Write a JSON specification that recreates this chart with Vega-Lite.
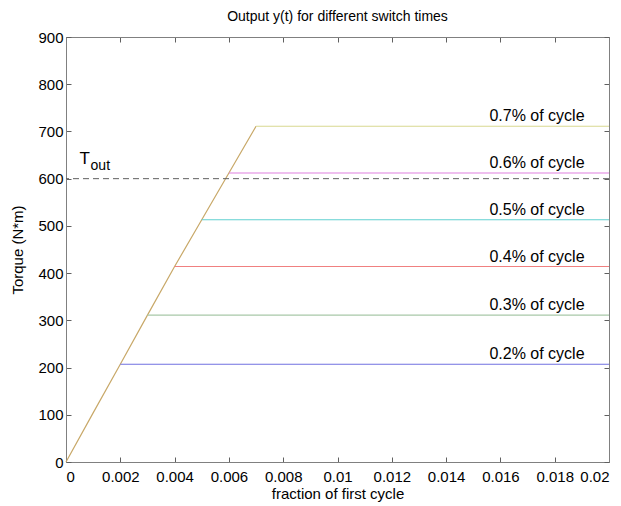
{
  "$schema": "https://vega.github.io/schema/vega-lite/v6.json",
  "width": 543,
  "height": 425,
  "autosize": {"type": "none"},
  "padding": {"left": 66, "top": 37, "right": 12, "bottom": 44},
  "background": "white",
  "title": {"text": "Output y(t) for different switch times", "fontSize": 14, "font": "Liberation Sans", "fontWeight": "normal", "color": "#000", "offset": 6},
  "config": {
    "font": "Liberation Sans",
    "view": {"stroke": "#808080", "strokeWidth": 1},
    "axis": {"domainColor": "#808080", "tickColor": "#606060", "tickSize": -5, "labelFontSize": 15, "labelColor": "#000", "titleFontSize": 15, "titleFontWeight": "normal", "titleColor": "#000", "grid": false, "labelPadding": 9}
  },
  "datasets": {
    "curves": [
      {"series": "ramp", "x": 0, "y": 0},
      {"series": "ramp", "x": 0.001, "y": 104},
      {"series": "ramp", "x": 0.002, "y": 207},
      {"series": "ramp", "x": 0.003, "y": 311},
      {"series": "ramp", "x": 0.004, "y": 414},
      {"series": "ramp", "x": 0.005, "y": 513},
      {"series": "ramp", "x": 0.006, "y": 612},
      {"series": "ramp", "x": 0.007, "y": 711},
      {"series": "0.2%", "x": 0.002, "y": 207},
      {"series": "0.2%", "x": 0.02, "y": 207},
      {"series": "0.3%", "x": 0.003, "y": 311},
      {"series": "0.3%", "x": 0.02, "y": 311},
      {"series": "0.4%", "x": 0.004, "y": 414},
      {"series": "0.4%", "x": 0.02, "y": 414},
      {"series": "0.5%", "x": 0.005, "y": 513},
      {"series": "0.5%", "x": 0.02, "y": 513},
      {"series": "0.6%", "x": 0.006, "y": 612},
      {"series": "0.6%", "x": 0.02, "y": 612},
      {"series": "0.7%", "x": 0.007, "y": 711},
      {"series": "0.7%", "x": 0.02, "y": 711}
    ],
    "labels": [
      {"label": "0.2% of cycle", "y": 207},
      {"label": "0.3% of cycle", "y": 311},
      {"label": "0.4% of cycle", "y": 414},
      {"label": "0.5% of cycle", "y": 513},
      {"label": "0.6% of cycle", "y": 612},
      {"label": "0.7% of cycle", "y": 711}
    ]
  },
  "layer": [
    {
      "data": {"name": "curves"},
      "mark": {"type": "line", "strokeWidth": 1.2},
      "encoding": {
        "x": {"field": "x", "type": "quantitative", "scale": {"domain": [0, 0.02], "nice": false}, "axis": {"title": "fraction of first cycle", "values": [0, 0.002, 0.004, 0.006, 0.008, 0.01, 0.012, 0.014, 0.016, 0.018, 0.02], "format": "~g", "labelPadding": 12, "titlePadding": 2}},
        "y": {"field": "y", "type": "quantitative", "scale": {"domain": [0, 900], "nice": false}, "axis": {"title": "Torque (N*m)", "values": [0, 100, 200, 300, 400, 500, 600, 700, 800, 900], "labelPadding": 8, "titlePadding": 12}},
        "color": {"field": "series", "type": "nominal", "legend": null, "scale": {"domain": ["ramp", "0.2%", "0.3%", "0.4%", "0.5%", "0.6%", "0.7%"], "range": ["#c8a868", "#7070e0", "#a8c8a8", "#f08080", "#60d0d0", "#e080e0", "#d8d890"]}},
        "detail": {"field": "series"}
      }
    },
    {
      "data": {"values": [{}]},
      "mark": {"type": "rule", "strokeDash": [6, 4], "color": "#606060", "strokeWidth": 1},
      "encoding": {"y": {"datum": 600, "axis": null}}
    },
    {
      "data": {"name": "labels"},
      "mark": {"type": "text", "align": "right", "baseline": "bottom", "dy": -2, "fontSize": 16, "color": "#000"},
      "encoding": {
        "x": {"datum": 0.0191, "axis": null},
        "y": {"field": "y", "type": "quantitative", "axis": null},
        "text": {"field": "label"}
      }
    },
    {
      "data": {"values": [{}]},
      "mark": {"type": "text", "align": "left", "baseline": "bottom", "fontSize": 17, "color": "#000"},
      "encoding": {"x": {"datum": 0.0005, "axis": null}, "y": {"datum": 622, "axis": null}, "text": {"value": "T"}}
    },
    {
      "data": {"values": [{}]},
      "mark": {"type": "text", "align": "left", "baseline": "bottom", "fontSize": 14, "color": "#000", "dx": 11, "dy": 5},
      "encoding": {"x": {"datum": 0.0005, "axis": null}, "y": {"datum": 622, "axis": null}, "text": {"value": "out"}}
    },
    {
      "data": {"values": [{}]},
      "mark": {"type": "rule", "opacity": 0},
      "encoding": {
        "x": {"datum": 0, "axis": {"orient": "top", "labels": false, "title": null, "values": [0, 0.002, 0.004, 0.006, 0.008, 0.01, 0.012, 0.014, 0.016, 0.018, 0.02]}},
        "y": {"datum": 0, "axis": {"orient": "right", "labels": false, "title": null, "values": [0, 100, 200, 300, 400, 500, 600, 700, 800, 900]}}
      }
    }
  ],
  "resolve": {"axis": {"x": "independent", "y": "independent"}}
}
